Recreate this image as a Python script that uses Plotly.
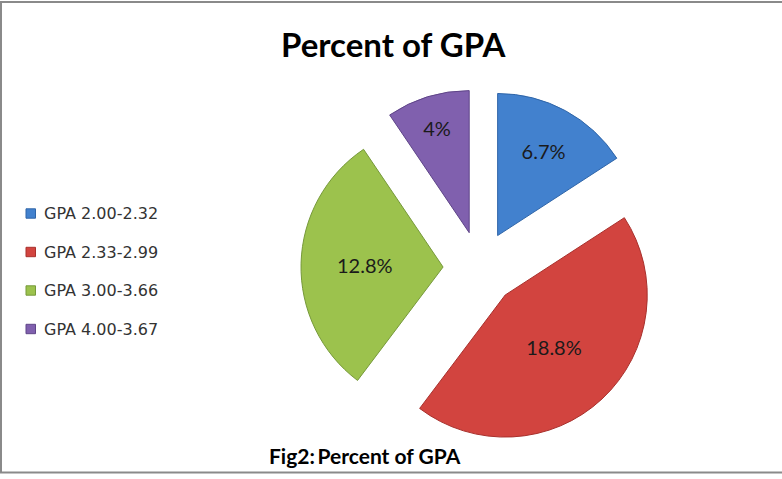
import plotly.graph_objects as go

labels = ["GPA 2.00-2.32", "GPA 2.33-2.99", "GPA 3.00-3.66", "GPA 4.00-3.67"]
values = [6.7, 18.8, 12.8, 4]
slice_text = ["6.7%", "18.8%", "12.8%", "4%"]
colors = ["#4281CE", "#D2443F", "#9CC24D", "#8060AE"]
edge_colors = ["#2F65A8", "#A8302C", "#76993A", "#5F4588"]

W, H = 782, 479

fig = go.Figure()
fig.add_trace(go.Pie(
    labels=labels, values=values, text=slice_text,
    textinfo="text", textposition="inside", insidetextorientation="horizontal",
    sort=False, direction="clockwise", rotation=0,
    pull=[0.26] * len(values),
    marker=dict(colors=colors, line=dict(color=edge_colors, width=1)),
    textfont=dict(family="Lato", size=20, color="#1a1a1a"),
    domain=dict(x=[301 / W, 659 / W], y=[1 - 447 / H, 1 - 89 / H]),
    showlegend=False, hoverinfo="label+text",
))

shapes = []
annotations = []
# frame
shapes.append(dict(type="line", xref="paper", yref="paper", x0=0, x1=1, y0=1 - 2 / H, y1=1 - 2 / H,
                   line=dict(color="#8a8a8a", width=2)))
shapes.append(dict(type="line", xref="paper", yref="paper", x0=1 / W, x1=1 / W, y0=1 - 472.5 / H, y1=1 - 1 / H,
                   line=dict(color="#8a8a8a", width=2)))
shapes.append(dict(type="line", xref="paper", yref="paper", x0=0, x1=1, y0=1 - 472.5 / H, y1=1 - 472.5 / H,
                   line=dict(color="#8a8a8a", width=2)))

# manual legend
ys = [213.5, 252, 290.5, 329]
for lab, col, ec, yy in zip(labels, colors, edge_colors, ys):
    shapes.append(dict(type="rect", xref="paper", yref="paper",
                       x0=26 / W, x1=35.5 / W, y0=1 - (yy + 4.7) / H, y1=1 - (yy - 4.7) / H,
                       fillcolor=col, line=dict(color=ec, width=1)))
    annotations.append(dict(text=lab, xref="paper", yref="paper", x=42 / W, y=1 - yy / H,
                            xanchor="left", yanchor="middle", showarrow=False,
                            font=dict(family="DejaVu Sans", size=16, color="#333333")))

annotations.append(dict(text="<b>Percent of GPA</b>", xref="paper", yref="paper", x=393 / W, y=1 - 44 / H,
                        xanchor="center", yanchor="middle", showarrow=False,
                        font=dict(family="Lato", size=33, color="#000000")))
annotations.append(dict(text="<b>Fig2:\u2009Percent of GPA</b>", xref="paper", yref="paper", x=365 / W, y=1 - 455 / H,
                        xanchor="center", yanchor="middle", showarrow=False,
                        font=dict(family="Lato", size=21, color="#000000")))

fig.update_layout(
    width=W, height=H,
    margin=dict(l=0, r=0, t=0, b=0),
    paper_bgcolor="white", plot_bgcolor="white",
    shapes=shapes, annotations=annotations,
)

fig.write_html("out.html", config={"displayModeBar": False},
               post_script="document.body.style.margin='0';document.body.style.overflow='hidden';")
